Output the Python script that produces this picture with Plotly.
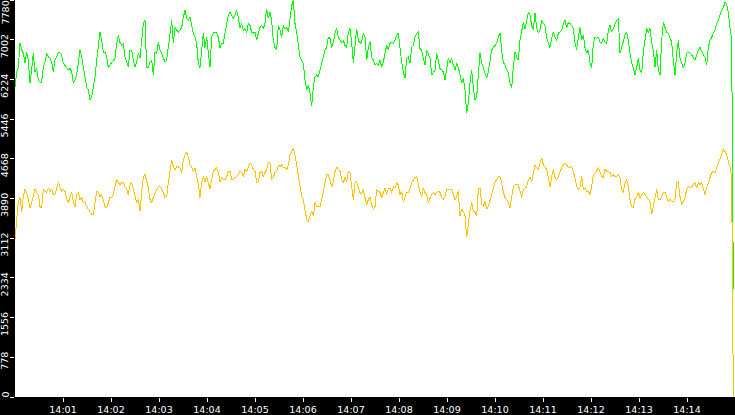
import numpy as np
import pandas as pd
import plotly.graph_objects as go

# ---- data ----
green_values = [
    6070, 6370, 6460, 6930, 6800, 6740, 6540, 6760, 6600, 6150,
    6410, 6740, 6370, 6440, 6210, 6170, 6170, 6460, 6560, 6740,
    6660, 6640, 6560, 6370, 6600, 6660, 6760, 6740, 6700, 6540,
    6500, 6440, 6410, 6440, 6370, 6150, 6210, 6310, 6600, 6800,
    6660, 6460, 6210, 6070, 6020, 5820, 5880, 6050, 6270, 6600,
    6850, 7150, 6990, 6760, 6760, 6660, 6460, 6500, 6560, 6600,
    6640, 6930, 7090, 6950, 6890, 6930, 6660, 6560, 6460, 6800,
    6800, 6600, 6460, 6560, 6740, 6640, 6930, 7320, 7380, 6460,
    6460, 6560, 6600, 6310, 6760, 6740, 6950, 6800, 6740, 6640,
    6560, 6600, 6830, 7130, 7380, 6930, 7240, 7190, 7150, 7190,
    7240, 7440, 7580, 7420, 7380, 7440, 7280, 7130, 7050, 6930,
    6540, 6460, 6800, 7130, 6850, 7050, 6740, 6460, 7050, 7130,
    7150, 7130, 7050, 6850, 6930, 6930, 7130, 7320, 7480, 7540,
    7480, 7420, 7480, 7580, 7440, 7240, 7320, 7190, 7220, 7130,
    7320,
    7280, 7150, 7130, 7150, 6990, 7130, 7240, 7280, 7220, 7320,
    7610, 7420, 7540, 7380, 6990, 6850, 6800, 7280, 7190, 7050,
    7280, 7220, 7240, 7150, 7380, 7670, 7770, 7320, 7150, 6930,
    6660, 6600, 6540, 6210, 6020, 6110, 5960, 5700, 6070, 6270,
    6310, 6270, 6410, 6560, 6660, 6800, 6850, 7050, 7030, 6850,
    6950, 7130, 7220, 7050, 6990, 6950, 6990, 6890, 6850, 7150,
    7220, 6950, 6540, 6850, 7220, 6990, 6930, 6950, 7130, 7050,
    6600, 6850, 6950, 6660, 6600, 6500, 6540, 6500, 6600, 6460,
    6560, 6740, 6890, 6800, 6930, 6950, 6930, 6990, 7090, 7130,
    6800, 6560, 6370, 6250,
    6640, 6660, 6540, 6850, 6890, 7050, 7130, 7150, 6830, 6800,
    6640, 6500, 6800, 6700, 6640, 6310, 6370, 6410, 6740, 6600,
    6440, 6410, 6370, 6210, 6460, 6640, 6540, 6640, 6500, 6410,
    6540, 6460, 6310, 6150, 6250, 6020, 5570, 5760, 6150, 6410,
    6070, 5820, 5880, 6270, 6740, 6540, 6440, 6370, 6250, 6370,
    6640, 6800, 6850, 6890, 6930, 7050, 7130, 6800, 6560, 6500,
    6410, 6350, 6150, 6050, 6460, 6760, 6660, 6600, 6990, 7190,
    7340, 7220, 7420, 7540, 7480, 7280, 7190, 7520, 7240, 7130,
    7190, 7380, 7320, 7280, 7030, 6930, 6850, 7030, 7150, 7050,
    6990, 7130, 7150, 7190, 7320, 7380, 7240, 7340, 7320,
    7280, 7220, 6930, 6800, 7050, 7240, 6990, 7090, 6850, 6740,
    6800, 6540, 6440, 6930, 7050, 7030, 7050, 6950, 6930, 7030,
    6950, 6930, 7190, 7280, 7150, 7240, 7320, 7380, 7420, 6740,
    6850, 6990, 7090, 7150, 6990, 6740, 6540, 6440, 6310, 6460,
    6640, 6410, 6350, 6760, 7050, 7220, 7130, 7220, 6950, 6800,
    6460, 6800, 6410, 6310, 6990, 7340, 7240, 7150, 7130, 7030,
    6950, 6600, 6310, 6740, 6990, 6640, 6560, 6460, 6540, 6740,
    6760, 6740, 6700, 6660, 6600, 6700, 6800, 6850, 6760, 6700,
    6660, 6500, 6850, 6990, 7050, 7130, 7190, 7320, 7380, 7480,
    7580, 7630, 7730, 7710, 7520, 7240, 6990, 2110,
]

orange_values = [
    3090, 3480, 3830, 3910, 3620, 3930, 4070, 4010, 3870, 3710,
    3810, 3930, 4070, 4010, 3970, 3730, 3710, 4070, 4030, 4010,
    4100, 4030, 4070, 3970, 3970, 4100, 4200, 4120, 4030, 4070,
    4030, 3870, 3810, 3910, 4010, 3830, 3730, 3970, 4010, 3870,
    3910, 3810, 3830, 3730, 3680, 3640, 3580, 3580, 3870, 4030,
    4010, 3930, 3970, 3830, 3730, 3710, 3830, 3910, 3910, 3970,
    4120, 4260, 4200, 4160, 4200, 4200, 4120, 4070, 3970, 4160,
    4200, 4070, 3970, 3810, 3870, 3640, 4010, 4300, 4360, 4220,
    4100, 3870, 3810, 3910, 4010, 4070, 4120, 4120, 4070, 4010,
    3910, 3930, 4200, 4400, 4650, 4510, 4460, 4510, 4510, 4490,
    4400, 4650, 4750, 4790, 4710, 4550, 4510, 4420, 4490, 4320,
    4160, 3910,
    4200, 4320, 4220, 4320, 4200, 4070, 4260, 4420, 4460, 4490,
    4400, 4220, 4300, 4260, 4260, 4320, 4420, 4420, 4260, 4260,
    4300, 4320, 4360, 4420, 4400, 4320, 4460, 4420, 4510, 4590,
    4550, 4460, 4420, 4200, 4220, 4400, 4420, 4320, 4400, 4460,
    4590, 4590, 4260, 4300, 4400, 4420, 4550, 4510, 4550, 4490,
    4510, 4460, 4550, 4750, 4810, 4880, 4750, 4550, 4320, 4070,
    3930, 3870, 3680, 3480, 3440, 3540, 3640, 3540, 3810, 3730,
    3730, 3730, 3870, 4070, 4200, 4360, 4360, 4260, 4120, 4220,
    4420, 4510, 4460, 4420, 4260, 4200, 4300, 4220, 4420, 4400,
    4120, 3870, 4200, 4220, 4100, 4010, 3970, 4070, 3910, 3770,
    3870, 3910, 3770, 3680, 3730, 4070, 4030, 4010, 3910, 4030,
    4100,
    3970, 4070, 4100, 4010, 4120, 4100, 4200, 4160, 3970, 4030,
    3830, 3910, 4010, 4010, 4070, 4200, 4260, 4300, 4320, 4120,
    4010, 3930, 4100, 4010, 3970, 3810, 3910, 3970, 4010, 3970,
    4010, 4030, 4010, 3910, 3870, 3930, 4070, 4070, 4070, 4070,
    3970, 3870, 3930, 4030, 3540, 3680, 3640, 3540, 3130, 3420,
    3640, 3810, 3640, 3620, 3540, 4070, 4100, 3770, 3730, 3830,
    3680, 3730, 3830, 3970, 4100, 4220, 4260, 4320, 4320, 4200,
    4010, 3910, 3870, 3810, 3710, 3930, 4120, 4160, 4160, 4160,
    4030, 3910, 4070, 4100, 4120, 4260, 4300, 4220, 4420, 4550,
    4490, 4460, 4590, 4690, 4550, 4510, 4460, 4300, 4120, 4320,
    4460, 4300, 4260, 4320, 4420, 4490, 4550, 4590, 4550, 4490,
    4510,
    4510, 4400, 4300, 4120, 4070, 4120, 4320, 4070, 4100, 4030,
    4030, 3970, 4120, 4360, 4400, 4420, 4510, 4400, 4320, 4300,
    4460, 4420, 4420, 4400, 4320, 4360, 4320, 4320, 4360, 4300,
    4070, 4010, 4200, 4260, 4120, 3870, 3730, 3710, 3870, 3930,
    4010, 3910, 3970, 4010, 3970, 3930, 3870, 3830, 3580, 3730,
    3910, 4070, 3870, 3870, 3930, 4010, 4010, 3910, 3830, 3870,
    3830, 3830, 3870, 4200, 4220, 3930, 3770, 3830, 3910, 4070,
    4120, 4100, 4120, 4160, 4200, 4100, 4200, 4160, 4200, 4070,
    3970, 4100, 4200, 4320, 4400, 4420, 4400, 4490, 4590, 4690,
    4790, 4850, 4810, 4750, 4610, 4510, 4320, 0,
]

start_time = "2024-01-01 14:00:00"
end_time = "2024-01-01 14:15:00"
sample_seconds = 25 / 12  # sampling interval of the recorded series

x_tick_times = [f"2024-01-01 14:{m:02d}:00" for m in range(1, 15)]
x_tick_labels = ["14:01", "14:02", "14:03", "14:04", "14:05", "14:06", "14:07",
                 "14:08", "14:09", "14:10", "14:11", "14:12", "14:13", "14:14"]
y_tick_values = [0, 778, 1556, 2334, 3112, 3890, 4668, 5446, 6224, 7002, 7780]
y_tick_labels = ["0", "778", "1556", "2334", "3112", "3890", "4668", "5446",
                 "6224", "7002", "7780"]

GREEN = "#00FF00"
ORANGE = "#FFC400"
FONT = "DejaVu Sans"

t0 = pd.Timestamp(start_time)
green_t = t0 + pd.to_timedelta(np.arange(len(green_values)) * sample_seconds, unit="s")
orange_t = t0 + pd.to_timedelta(np.arange(len(orange_values)) * sample_seconds, unit="s")

fig = go.Figure()
fig.add_trace(go.Scatter(x=green_t, y=green_values, mode="lines",
                         line=dict(color=GREEN, width=1), hoverinfo="skip"))
fig.add_trace(go.Scatter(x=orange_t, y=orange_values, mode="lines",
                         line=dict(color=ORANGE, width=1), hoverinfo="skip"))

W, H = 735, 415
ML, MB = 15, 16
plot_h = H - MB
ymax = y_tick_values[-1]

annotations = []
for v, lab in zip(y_tick_values, y_tick_labels):
    px_from_top = (ymax - v) / ymax * plot_h
    shift = min(6, px_from_top)
    annotations.append(dict(
        x=0, xref="paper", y=v, yref="y", text=lab, textangle=-90,
        xanchor="right", yanchor="top", xshift=-4, yshift=shift,
        showarrow=False, borderpad=0,
        font=dict(family=FONT, size=9.5, color="white"),
    ))

fig.update_layout(
    width=W, height=H,
    margin=dict(l=ML, r=0, t=0, b=MB, pad=0),
    paper_bgcolor="black", plot_bgcolor="white",
    showlegend=False,
    annotations=annotations,
    xaxis=dict(
        range=[start_time, end_time], showgrid=False, zeroline=False,
        showline=False, tickmode="array", tickvals=x_tick_times,
        ticktext=x_tick_labels, ticks="outside", ticklen=4, tickwidth=1,
        tickcolor="white", tickfont=dict(family=FONT, size=9.5, color="white"),
        fixedrange=True,
    ),
    yaxis=dict(
        range=[0, ymax], showgrid=False, zeroline=False, showline=False,
        tickmode="array", tickvals=y_tick_values, showticklabels=False,
        ticks="outside", ticklen=4, tickwidth=1, tickcolor="white",
        fixedrange=True,
    ),
)

fig.write_html(
    "out.html",
    config={"displayModeBar": False},
    post_script=(
        "document.body.style.margin='0';"
        "document.body.style.overflow='hidden';"
        "document.querySelectorAll('.scatterlayer path.js-line').forEach("
        "function(p){p.style.shapeRendering='crispEdges';});"
    ),
)
